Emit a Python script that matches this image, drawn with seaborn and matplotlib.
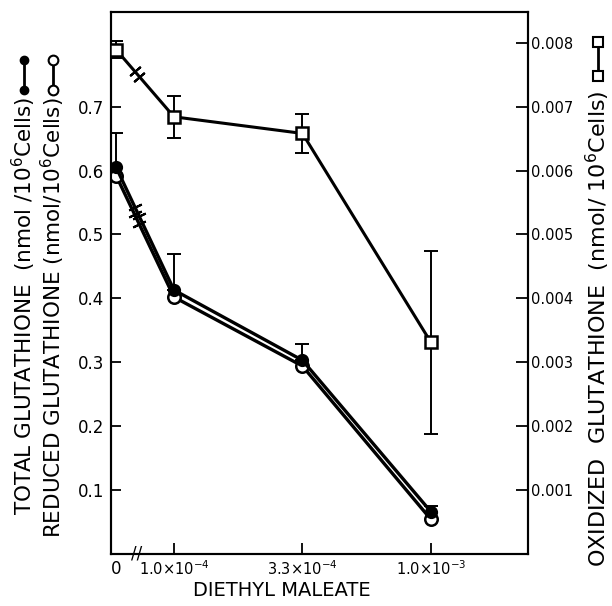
import numpy as np
import matplotlib
matplotlib.use("Agg")
import matplotlib.pyplot as plt
import seaborn as sns
from matplotlib.lines import Line2D

# values
dose_labels = ["0", r"1.0$\times$10$^{-4}$", r"3.3$\times$10$^{-4}$", r"1.0$\times$10$^{-3}$"]
total_gsh = [0.605, 0.413, 0.303, 0.066]
total_err = [0.053, 0.056, 0.025, 0.009]
reduced_gsh = [0.592, 0.402, 0.294, 0.054]
oxidized_gssg = [0.00789, 0.00684, 0.00658, 0.00331]
oxidized_err = [0.00013, 0.00033, 0.00030, 0.00143]
left_ticks = [0.1, 0.2, 0.3, 0.4, 0.5, 0.6, 0.7]
right_ticks = [0.001, 0.002, 0.003, 0.004, 0.005, 0.006, 0.007, 0.008]

sns.set_style("ticks")
plt.rcParams["font.family"] = ["DejaVu Sans"]
plt.rcParams["mathtext.fontset"] = "dejavusans"
for key in ("text.color", "axes.labelcolor", "xtick.color", "ytick.color", "axes.edgecolor"):
    plt.rcParams[key] = "black"

W, H = 612, 606
fig = plt.figure(figsize=(W / 100, H / 100), dpi=100)
ax = fig.add_axes([111 / W, 52 / H, 417 / W, 542 / H])
ax2 = ax.twinx()

# the zero dose sits just right of the axis, then an axis break
xpos = np.array([0.55, 1.0, 2.0, 3.0])

ax.errorbar(xpos, total_gsh, yerr=[np.zeros(4), total_err], fmt="none",
            ecolor="black", elinewidth=1.4, capsize=5, capthick=1.4, zorder=2)
sns.lineplot(x=xpos, y=total_gsh, ax=ax, color="black", lw=2.4, marker="o",
             markersize=8, markerfacecolor="black", markeredgecolor="black",
             markeredgewidth=1.5, zorder=4)
sns.lineplot(x=xpos, y=reduced_gsh, ax=ax, color="black", lw=2.4, marker="o",
             markersize=9, markerfacecolor="white", markeredgecolor="black",
             markeredgewidth=1.8, zorder=3)

ax2.errorbar(xpos, oxidized_gssg, yerr=oxidized_err, fmt="none",
             ecolor="black", elinewidth=1.4, capsize=5, capthick=1.4, zorder=2)
sns.lineplot(x=xpos, y=oxidized_gssg, ax=ax2, color="black", lw=2.2, marker="s",
             markersize=9, markerfacecolor="white", markeredgecolor="black",
             markeredgewidth=1.8, zorder=3)

ax.set_xlim(0.51, 3.755)
ax.set_ylim(0, 0.848)
ax2.set_ylim(0, 0.00848)

ax.set_xticks(xpos)
ax.set_xticklabels(dose_labels, fontsize=10.5)
ax.get_xticklabels()[0].set_fontsize(12)
ax.xaxis.get_major_ticks()[0].tick1line.set_visible(False)
ax.tick_params(axis="x", direction="in", length=8, width=1.3, pad=4)
ax.set_yticks(left_ticks)
ax.set_yticklabels([f"{v:.1f}" for v in left_ticks], fontsize=12)
ax.tick_params(axis="y", direction="in", length=7, width=1.3, pad=5)
ax2.set_yticks(right_ticks)
ax2.set_yticklabels([f"{v:.3f}" for v in right_ticks], fontsize=10.5)
ax2.tick_params(axis="y", direction="in", length=9, width=1.3, pad=2)
ax.set_xlabel("")
ax.set_ylabel("")
ax2.set_ylabel("")
for a in (ax, ax2):
    for s in a.spines.values():
        s.set_linewidth(1.5)
        s.set_color("black")

# break marks on the lines between 0 and the first dose
fig.canvas.draw()
def line_break(a, xs, ys, frac=0.36):
    p0 = a.transData.transform((xs[0], ys[0]))
    p1 = a.transData.transform((xs[1], ys[1]))
    ang = np.degrees(np.arctan2(p1[1] - p0[1], p1[0] - p0[0]))
    for f in (frac - 0.04, frac + 0.04):
        pt = p0 + f * (p1 - p0)
        xd, yd = a.transData.inverted().transform(pt)
        a.plot([xd], [yd], marker=(2, 2, ang), markersize=10, mew=1.5,
               color="black", zorder=6)

line_break(ax, xpos[:2], total_gsh[:2])
line_break(ax, xpos[:2], reduced_gsh[:2])
line_break(ax2, xpos[:2], oxidized_gssg[:2])

ax.text(0.71, 0.0, "//", transform=ax.get_xaxis_transform(), ha="center",
        va="center", fontsize=12)

# axis titles with their key symbols
def fx(x):
    return x / W

def fy(y):
    return 1 - y / H

fig.text(fx(282), fy(590), "DIETHYL MALEATE", fontsize=14, ha="center", va="center")
fig.text(fx(24), fy(97), r"TOTAL GLUTATHIONE  (nmol /10$^{6}$Cells)", rotation=90,
         fontsize=15.5, ha="center", va="top")
fig.text(fx(53), fy(97), r"REDUCED GLUTATHIONE (nmol/10$^{6}$Cells)", rotation=90,
         fontsize=15.5, ha="center", va="top")
fig.text(fx(598), fy(90), r"OXIDIZED  GLUTATHIONE  (nmol/ 10$^{6}$Cells)", rotation=90,
         fontsize=16, ha="center", va="top")

fig.add_artist(Line2D([fx(24), fx(24)], [fy(60), fy(90)], color="black", lw=2,
                      marker="o", markersize=6, mfc="black", mec="black"))
fig.add_artist(Line2D([fx(53), fx(53)], [fy(60), fy(90)], color="black", lw=2,
                      marker="o", markersize=7, mfc="white", mec="black", mew=1.5))
fig.add_artist(Line2D([fx(598), fx(598)], [fy(42), fy(76)], color="black", lw=2,
                      marker="s", markersize=7, mfc="white", mec="black", mew=1.5))

fig.savefig("out.png", dpi=100)
